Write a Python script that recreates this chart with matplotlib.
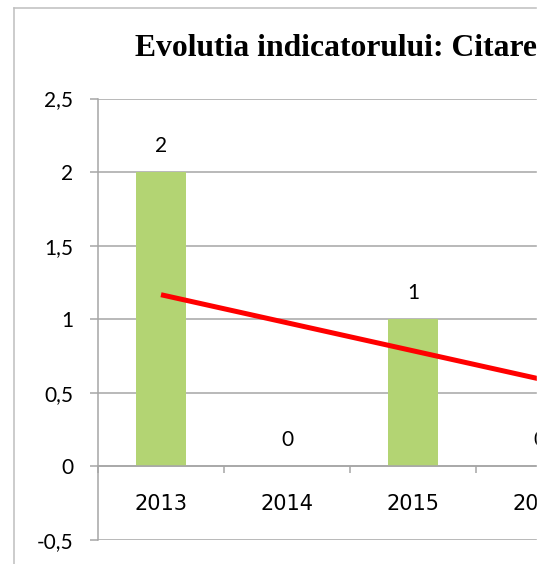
import matplotlib
matplotlib.use("Agg")
import matplotlib.pyplot as plt
import numpy as np
from matplotlib.patches import Rectangle
from matplotlib.lines import Line2D
from matplotlib.ticker import FuncFormatter

# date: citari pe ani (dupa 2016 nu se vad in imagine, deduse din linia de trend)
ani = ['2013', '2014', '2015', '2016', '2017', '2018', '2019', '2020']
valori = [2, 0, 1, 0, 1, 0, 0, 0]
y_ticks = [-0.5, 0, 0.5, 1, 1.5, 2, 2.5]
titlu = "Evolutia indicatorului: Citare"

W, H = 551, 564
fig = plt.figure(figsize=(W / 100, H / 100), dpi=100)

gri = '#a6a6a6'
verde = '#b3d473'
font_txt = 'Lato'
marime = 15

# zona de grafic (mai lata decat imaginea, partea dreapta e taiata)
x0, x1 = 98, 98 + 126 * len(ani)
y_top, y_bot = 98.5, 540
ax = fig.add_axes([x0 / W, (H - y_bot) / H, (x1 - x0) / W, (y_bot - y_top) / H])

x = np.arange(len(ani))
ax.bar(x, valori, width=0.4, color=verde, zorder=2)

# linie de trend liniar
panta, interc = np.polyfit(x, valori, 1)
ax.plot(x, panta * x + interc, color='red', lw=3.6, zorder=3, solid_capstyle='butt')

for xi, v in zip(x, valori):
    ax.annotate(str(v), (xi, v), xytext=(0, 19), textcoords='offset points',
                ha='center', va='center', fontsize=marime, family=font_txt)

ax.set_xlim(-0.5, len(ani) - 0.5)
ax.set_ylim(-0.5, 2.5)
ax.set_yticks(y_ticks)
ax.yaxis.set_major_formatter(FuncFormatter(lambda v, p: ('%g' % v).replace('.', ',')))
ax.grid(axis='y', color=gri, lw=1.1, zorder=0)
ax.tick_params(axis='y', length=6, width=1.1, color=gri, pad=12, labelsize=marime)

ax.set_xticks(np.arange(len(ani) + 1) - 0.5)
ax.set_xticklabels([])
ax.set_xticks(x, minor=True)
ax.set_xticklabels(ani, minor=True)
ax.tick_params(axis='x', which='major', length=5, width=1.1, color=gri, direction='out')
ax.tick_params(axis='x', which='minor', length=0, pad=20, labelsize=marime)

for lbl in ax.get_yticklabels() + ax.get_xticklabels(minor=True):
    lbl.set_family(font_txt)

for s in ['top', 'right']:
    ax.spines[s].set_visible(False)
ax.spines['bottom'].set_position(('data', 0))
ax.spines['bottom'].set_color(gri)
ax.spines['left'].set_color(gri)
ax.spines['bottom'].set_linewidth(1.1)
ax.spines['left'].set_linewidth(1.1)

fig.text(135 / W, 1 - 49 / H, titlu, ha='left', va='center', fontsize=22.8,
         fontweight='bold', family='Liberation Serif')

# chenarul graficului
fig.add_artist(Line2D([14 / W, 14 / W], [0, 1 - 8 / H], color='#bfbfbf', lw=1.1,
                      transform=fig.transFigure))
fig.add_artist(Line2D([14 / W, 1], [1 - 8 / H, 1 - 8 / H], color='#bfbfbf', lw=1.1,
                      transform=fig.transFigure))

# marginea dreapta taiata
fig.add_artist(Rectangle((537 / W, 0), 1, 1, color='white', transform=fig.transFigure,
                         zorder=10))

fig.savefig('out.png', dpi=100)
